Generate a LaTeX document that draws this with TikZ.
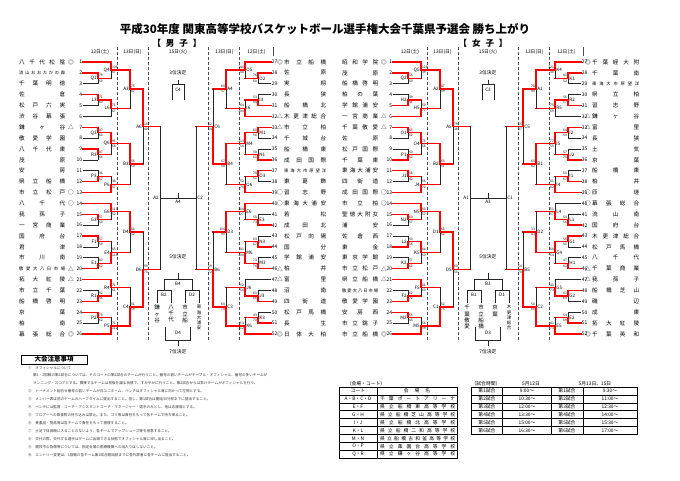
\documentclass[tikz,border=0pt]{standalone}
\usepackage{fontspec}
\setmainfont{Noto Sans CJK JP}
\usetikzlibrary{calc}

\def\sprd#1{\sprdA#1\endsprd}
\def\sprdA#1#2\endsprd{#1\ifx\relax#2\relax\else\hfill\sprdA#2\endsprd\fi}
\def\mkn{}\def\mkd{◎}\def\mko{○}\def\mkt{△}
\def\fsn{\fontsize{5.6}{6}\selectfont}
\def\fss{\fontsize{4.3}{5}\selectfont}

\tikzset{
  hw/.style={red, line width=1.4pt, line cap=rect},
  vw/.style={hw},
  hx/.style={hw},
  hl/.style={black!85, line width=.8pt, line cap=rect},
  vl/.style={hl},
  vx/.style={hl},
  num/.style={font=\fontsize{5}{5}\selectfont, inner sep=.6pt},
  numL/.style={num, anchor=east},
  numR/.style={num, anchor=west},
  sym/.style={font=\fontsize{5.6}{6}\selectfont, inner sep=0pt},
  lab/.style={font=\fontsize{4.6}{4.6}\selectfont, inner sep=.2pt},
  labL/.style={lab, anchor=east, xshift=-1pt},
  labR/.style={lab, anchor=west, xshift=1pt},
  scr/.style={font=\fontsize{3.3}{3.3}\selectfont, inner sep=.1pt},
  supL/.style={scr, anchor=south west, xshift=.8pt, yshift=1.1pt},
  subL/.style={scr, anchor=north west, xshift=.8pt, yshift=-1.1pt},
  supR/.style={scr, anchor=south east, xshift=-.8pt, yshift=1.1pt},
  subR/.style={scr, anchor=north east, xshift=-.8pt, yshift=-1.1pt},
  hdr/.style={font=\fontsize{4.8}{5}\selectfont, inner sep=0pt},
  daysep/.style={black!70, densely dashed, line width=.5pt},
  vt/.style={font=\fontsize{5.5}{6.3}\selectfont, align=center, inner sep=0pt, anchor=north},
  vts/.style={vt, font=\fontsize{4.4}{5.2}\selectfont},
  note/.style={font=\fontsize{3.6}{4}\selectfont, anchor=west, inner sep=0pt, black!80},
  tcell/.style={font=\fontsize{4.8}{5}\selectfont, inner sep=0pt},
}

\newcommand\putteam{%
  \node[num\s] (\p\tn) at (\nx,\yy) {\tn};
  \node[sym] (\p\tn-s) at (\mx,\yy) {\csname mk\sy\endcsname};
  \node[anchor=west, inner sep=0pt] (\p\tn-n) at (\bx,\yy) {\csname fs\fz\endcsname\hbox to \bw pt{\expandafter\sprd\expandafter{\nm}}};
}

\newcommand\playgame{%
  \path ($(\p\ga)!.5!(\p\gb)$) coordinate (tmp);
  \coordinate (col) at (\cx,0);
  \coordinate (\p\g) at (col |- tmp);
  \draw[h\ca] (\p\ga) -- (\p\ga -| \p\g);
  \draw[h\cb] (\p\gb) -- (\p\gb -| \p\g);
  \draw[v\ca] (\p\ga -| \p\g) -- (\p\g);
  \draw[v\cb] (\p\gb -| \p\g) -- (\p\g);
  \node[lab\s] (\p\g-l) at (\p\g) {\g};
  \node[sup\s] at (\p\g) {\sca};
  \node[sub\s] at (\p\g) {\scb};
}

\begin{document}
\begin{tikzpicture}[x=1pt,y=-1pt]
\useasboundingbox (0,0) rectangle (680,481);
\node[font=\bfseries\fontsize{11.5}{12}\selectfont] (title) at (325,29) {平成30年度 関東高等学校バスケットボール選手権大会千葉県予選会 勝ち上がり};
\node[font=\bfseries\fontsize{8.5}{9}\selectfont] (boys) at (177,43) {【\hspace{5pt}男\hspace{5pt}子\hspace{5pt}】};
\node[font=\bfseries\fontsize{8.5}{9}\selectfont] (girls) at (483,43) {【\hspace{5pt}女\hspace{5pt}子\hspace{5pt}】};

\foreach \x/\tx in {100/12日(土),132.5/13日(日),178/15日(火),224.5/13日(日),256.5/12日(土),410/12日(土),442.5/13日(日),488/15日(火),534.5/13日(日),566.5/12日(土)}
  \node[hdr] at (\x,52) {\tx};
\foreach \x in {117.5,148,208.5,239.5,427.5,458,518.5,549.5}
  \draw[daysep] (\x,47) -- (\x,342);
\foreach \x in {273,583}
  \draw[black!70, line width=.5pt] (\x,47) -- (\x,56);

\def\p{m}\def\s{L}\def\nx{83}\def\mx{71}\def\bx{19}\def\bw{46}
\foreach \rw/\nm/\sy/\fz [evaluate=\rw as \yy using 62+10.88*\rw, evaluate=\rw as \tn using int(\rw+1)] in {0/八千代松陰/d/n,1/流山おおたかの森/n/s,2/千葉明徳/n/n,3/佐倉/n/n,4/松戸六実/n/n,5/渋谷幕張/n/n,6/鎌ヶ谷/t/n,7/敬愛学園/n/n,8/八千代東/n/n,9/茂原/n/n,10/安房/n/n,11/県立船橋/n/n,12/市立松戸/o/n,13/八千代/o/n,14/我孫子/n/n,15/一宮商業/n/n,16/国府台/n/n,17/君津/n/n,18/市川南/n/n,19/敬愛大八日市場/t/s,20/拓大紅陵/t/n,21/市立千葉/n/n,22/船橋啓明/n/n,23/京葉/n/n,24/柏南/n/n,25/幕張総合/d/n}{\putteam}
\foreach \g/\ga/\gb/\cx/\ca/\cb/\sca/\scb in {Q1/2/3/98/w/l/79/50,Q4/1/Q1/111/w/x/106/67,L3/4/5/98/w/l/71/60,L6/L3/6/111/w/l/71/67,A3/Q4/L6/130/w/x/75/47,Q3/7/8/98/w/l/87/60,R3/9/10/98/w/l/87/64,Q6/Q3/R3/111/w/x/95/58,P3/11/12/98/l/w/36/67,P6/P3/13/111/x/w/38/57,B3/Q6/P6/130/w/x/56/50,A6/A3/B3/143/w/x/147/40,G3/15/16/98/w/l/57/50,G6/14/G3/111/w/x/113/52,F1/17/18/98/w/l/57/54,E1/19/20/98/l/w/60/62,E4/F1/E1/111/x/w/65/118,D4/G6/E4/130/w/x/64/52,R1/22/23/98/l/w/52/56,R4/21/R1/111/w/x/71/61,P2/24/25/98/w/l/73/62,P5/P2/26/111/x/w/71/112,C4/R4/P5/130/x/w/51/59,D6/D4/C4/143/x/w/59/73}{\playgame}

\def\p{m}\def\s{R}\def\nx{271}\def\mx{280}\def\bx{284}\def\bw{42}
\foreach \rw/\nm/\sy/\fz [evaluate=\rw as \yy using 62+10.88*\rw, evaluate=\rw as \tn using int(\rw+27)] in {0/市立船橋/d/n,1/佐原/n/n,2/実籾/n/n,3/長狭/n/n,4/船橋北/n/n,5/木更津総合/t/n,6/市立柏/t/n,7/千城台/n/n,8/船橋東/n/n,9/成田国際/n/n,10/東海大市原望洋/n/s,11/東葛飾/n/n,12/習志野/o/n,13/東海大浦安/o/n,14/若松/n/n,15/成田北/n/n,16/松戸向陽/n/n,17/国分/n/n,18/学館浦安/n/n,19/柏井/t/n,20/富里/t/n,21/沼南/n/n,22/四街道/n/n,23/松戸馬橋/n/n,24/長生/n/n,25/日体大柏/d/n}{\putteam}
\foreach \g/\ga/\gb/\cx/\ca/\cb/\sca/\scb in {O2/28/29/258/w/l/76/60,O5/27/O2/245/w/x/140/40,I3/30/31/258/l/w/53/64,I6/I3/32/245/x/w/64/100,A4/O5/I6/226/w/x/68/57,M1/33/34/258/w/l/60/56,N1/35/36/258/l/w/58/61,M4/M1/N1/245/w/x/113/56,O3/37/38/258/w/l/78/51,O6/O3/39/245/x/w/52/78,B4/M4/O6/226/w/x/67/58,C6/A4/B4/213/x/w/62/64,E3/41/42/258/l/w/58/73,E6/40/E3/245/w/x/104/27,N3/43/44/258/l/w/63/67,M3/45/46/258/l/w/73/76,M6/N3/M3/245/x/w/81/100,D3/E6/M6/226/w/x/104/90,J3/48/49/258/l/w/60/66,J6/47/J3/245/l/w/52/56,K3/50/51/258/l/w/43/70,K6/K3/52/245/x/w/53/112,C3/J6/K6/226/x/w/60/78,B6/D3/C3/213/x/w/59/72}{\playgame}

\def\p{w}\def\s{L}\def\nx{393}\def\mx{384}\def\bx{342}\def\bw{36}
\foreach \rw/\nm/\sy/\fz [evaluate=\rw as \yy using 62+10.88*\rw, evaluate=\rw as \tn using int(\rw+1)] in {0/昭和学院/d/n,1/茂原/n/n,2/船橋啓明/n/n,3/柏の葉/n/n,4/学館浦安/n/n,5/一宮商業/t/n,6/千葉敬愛/t/n,7/佐原/n/n,8/松戸国際/n/n,9/千葉東/n/n,10/東海大浦安/n/n,11/四街道/n/n,12/成田国際/o/n,13/市立柏/o/n,14/聖徳大附女/n/n,15/浦安/n/n,16/佐倉西/n/n,17/東金/n/n,18/東京学館/n/n,19/市立松戸/t/n,20/県立船橋/t/n,21/敬愛大八日市場/n/s,22/敬愛学園/n/n,23/安房西/n/n,24/市立銚子/n/n,25/市立船橋/d/n}{\putteam}
\foreach \g/\ga/\gb/\cx/\ca/\cb/\sca/\scb in {Q2/2/3/408/w/l/56/50,Q5/1/Q2/421/w/x/129/39,H2/4/5/408/l/w/39/41,H5/H2/6/421/x/w/50/77,A2/Q5/H5/440/w/x/87/59,O1/7/8/408/w/l/65/52,P1/9/10/408/l/w/50/52,O4/O1/P1/421/w/x/75/58,J1/11/12/408/w/l/58/42,J4/J1/13/421/x/w/56/72,B2/O4/J4/440/w/x/63/51,A5/A2/B2/453/w/x/79/38,N2/15/16/408/w/l/60/57,N5/14/N2/421/w/x/63/57,L2/17/18/408/l/w/50/56,K2/19/20/408/l/w/57/62,K5/L2/K2/421/w/x/64/50,D1/N5/K5/440/w/x/63/62,F2/22/23/408/l/w/62/72,F5/21/F2/421/w/x/81/60,M2/24/25/408/w/l/55/43,M5/M2/26/421/x/w/56/59,C1/F5/M5/440/x/w/52/75,D5/D1/C1/453/w/x/60/53}{\playgame}

\def\p{w}\def\s{R}\def\nx{581}\def\mx{588}\def\bx{592}\def\bw{47}
\foreach \rw/\nm/\sy/\fz [evaluate=\rw as \yy using 62+10.88*\rw, evaluate=\rw as \tn using int(\rw+27)] in {0/千葉経大附/d/n,1/千葉南/n/n,2/東海大市原望洋/n/s,3/県立柏/n/n,4/習志野/n/n,5/鎌ヶ谷/t/n,6/富里/t/n,7/長狭/n/n,8/土気/n/n,9/京葉/n/n,10/船橋東/n/n,11/柏井/n/n,12/匝瑳/o/n,13/幕張総合/o/n,14/流山南/n/n,15/国府台/n/n,16/木更津総合/n/n,17/松戸馬橋/n/n,18/八千代/n/n,19/千葉商業/t/n,20/我孫子/t/n,21/船橋芝山/n/n,22/磯辺/n/n,23/成東/n/n,24/拓大紅陵/n/n,25/千葉英和/d/n}{\putteam}
\foreach \g/\ga/\gb/\cx/\ca/\cb/\sca/\scb in {K1/28/29/568/w/l/81/52,K4/27/K1/555/w/x/121/30,R2/30/31/568/l/w/56/57,R5/R2/32/555/w/l/75/69,A1/K4/R5/536/w/x/78/40,I2/33/34/568/w/l/64/50,J2/35/36/568/l/w/57/75,I5/I2/J2/555/w/x/77/55,I1/37/38/568/l/w/50/67,I4/I1/39/555/x/w/61/62,B1/I5/I4/536/w/x/63/62,C5/A1/B1/523/w/x/65/37,L1/41/42/568/l/w/54/56,L4/40/L1/555/l/w/51/57,G1/43/44/568/w/l/56/50,H1/45/46/568/l/w/47/61,G4/G1/H1/555/w/x/66/54,D2/L4/G4/536/x/w/33/43,G2/48/49/568/w/l/61/60,G5/47/G2/555/l/w/40/73,E2/50/51/568/l/w/54/69,E5/E2/52/555/x/w/41/73,C2/G5/E5/536/x/w/58/60,B5/D2/C2/523/x/w/54/70}{\playgame}

\foreach \p/\dx/\qa/\qb/\qc/\qd/\ua/\ub/\uf/\ut/\uv/\ul/\ur/\us in {m/0/A6/D6/C6/B6/A2/C2/A4/C4/B4/B2/D2/D4,w/310/A5/D5/C5/B5/A1/C1/A3/C3/B3/B1/D1/D3}{
  \path ($(\p\qa)!.5!(\p\qb)$) coordinate (tmp);
  \coordinate (col) at ({160+\dx},0);
  \coordinate (\p cl) at (col |- tmp);
  \coordinate (col) at ({196+\dx},0);
  \coordinate (\p cr) at (col |- tmp);
  \coordinate (\p cf) at ($(\p cl)!.5!(\p cr)$);
  \foreach \q/\sd in {\qa/l,\qb/l,\qc/r,\qd/r}
    \draw[hx] (\p\q) -- (\p\q -| \p c\sd);
  \draw[vx] (\p\qa -| \p cl) -- (\p\qb -| \p cl);
  \draw[vx] (\p\qc -| \p cr) -- (\p\qd -| \p cr);
  \draw[vx] (\p cl) -- (\p cr);
  \draw[vx] (\p cf) -- ++(0,-5);
  \node[labL] (\p cl-l) at (\p cl) {\ua};
  \node[labR] (\p cr-l) at (\p cr) {\ub};
  \node[lab, below=1.5pt] (\p cf-l) at (\p cf) {\uf};
  \coordinate (\p c3) at ({178+\dx},84);
  \draw[vx] (\p c3) -- ++(0,-4);
  \draw[vx] ($(\p c3)+(-6,16)$) |- ($(\p c3)+(6,0)$) -- ++(0,16);
  \node[lab] (\p c3-l) at ($(\p c3)+(0,6)$) {\ut};
  \node[hdr] (\p c3-t) at ({178+\dx},73) {3位決定};
  \coordinate (\p c5) at ({178+\dx},279);
  \draw[vx] (\p c5) -- ++(0,-6);
  \draw[vx] ($(\p c5)+(-14,11)$) |- ($(\p c5)+(14,0)$) -- ++(0,11);
  \node[lab] (\p c5-l) at ($(\p c5)+(0,5)$) {\uv};
  \foreach \sd/\lb in {-1/\ul,1/\ur}{
    \coordinate (tmp) at ($(\p c5)+(14*\sd,11)$);
    \draw[vx] ($(tmp)+(-7,13)$) |- ($(tmp)+(7,0)$) -- ++(0,13);
    \node[lab] at ($(tmp)+(0,4.5)$) {\lb};
  }
  \node[hdr] (\p c5-t) at ({178+\dx},257) {5位決定};
  \coordinate (\p c7) at ({178+\dx},340);
  \draw[vx] (\p c7) -- ++(0,6);
  \draw[vx] ($(\p c7)+(-12.5,-13)$) |- ($(\p c7)+(12.5,0)$) -- ++(0,-13);
  \node[lab] (\p c7-l) at ($(\p c7)+(0,-7)$) {\us};
  \node[hdr] (\p c7-t) at ({178+\dx},351.5) {7位決定};
}
\foreach \x/\tx/\f in {157/鎌\\ヶ\\谷/vt,171/八\\千\\代/vt,185/市\\立\\船/vt,199/東\\海\\大\\浦\\安/vts,467/千\\葉\\敬\\愛/vt,481/市\\立\\船\\橋/vt,495/京\\葉/vt,509/木\\更\\津\\総\\合/vts}
  \node[\f] at (\x,305) {\tx};

\node[draw, line width=1pt, minimum width=66pt, minimum height=9pt, inner sep=0pt, font=\bfseries\fontsize{6.5}{7}\selectfont] (rules) at (54,359.5) {大会注意事項};
\foreach \y/\x/\tx in {368/28/①　オフィシャルについて,375.5/33/第1・2回戦の第1試合については、そのコートの第1試合のチームが行うこと。番号の若いチームがテーブル・オフィシャル、番号の多いチームが,383/33/ランニング・スコアとする。隣接するチームは前後を譲る状態で、すみやかに行うこと。第2試合からは負けチームがオフィシャルを行う。,391.5/28/②　トーナメント組合せ番号の若いチームが白ユニホーム、ベンチはオフィシャル席に向かって左側とする。,399.5/28/③　メンバー表は前のゲームのハーフタイムに提出すること。但し、第1試合は開始30分前までに提出すること。,407.5/28/④　ベンチには監督・コーチ・アシスタントコーチ・マネージャー・選手のみとし、他は応援席とする。,415.5/28/⑤　フロアーへの飲食物の持ち込みは禁止。また、ゴミ等は責任をもって各チームで持ち帰ること。,423.5/28/⑥　貴重品・物品等は各チームで責任をもって管理すること。,431.5/28/⑦　土足で体育館に入ることのないよう、各チームでアップシューズ等を用意すること。,439.5/28/⑧　交代の際、交代する選手はゲームに出場できる状態でオフィシャル席に申し出ること。,447.5/28/⑨　競技中の負傷等については、指定会場の医療機関への出入りはしないこと。,455.5/28/⑩　エントリー変更は、1回戦の各チーム第1試合開始前までに各代表者に各チームに提出すること。}
  \node[note] at (\x,\y) {\tx};

\node[tcell] (venue) at (366,384) {（会場・コート）};
\draw[line width=.9pt] (339,387) rectangle (457,458);
\foreach \i in {1,...,8}
  \draw[line width=.4pt] (339,{387+7.89*\i}) -- (457,{387+7.89*\i});
\draw[line width=.4pt] (377,387) -- (377,458);
\node[tcell] (vc0) at (358,391) {コート};
\node[tcell] (vn0) at (417,391) {会\hspace{6pt}場\hspace{6pt}名};
\foreach \i/\ct/\nm in {1/A・B・C・D/千葉ポートアリーナ,2/E・F/県立船橋東高等学校,3/G・H/県立船橋芝山高等学校,4/I・J/県立船橋北高等学校,5/K・L/県立船橋二和高等学校,6/M・N/県立船橋古和釜高等学校,7/O・P/県立薬園台高等学校,8/Q・R/県立鎌ヶ谷高等学校}{
  \node[tcell] (vc\i) at (358,{391+7.89*\i}) {\ct};
  \node[tcell, anchor=west] (vn\i) at (380,{391+7.89*\i}) {\hbox to 75pt{\expandafter\sprd\expandafter{\nm}}};
}

\node[tcell] (times) at (486,384) {（試合時間）};
\node[tcell] (day1) at (531,384) {5月12日};
\node[tcell] (day2) at (595,384) {5月13日、15日};
\draw[line width=.9pt] (471,387) rectangle (637,434.3);
\foreach \i in {1,...,5}
  \draw[line width=.4pt] (471,{387+7.89*\i}) -- (637,{387+7.89*\i});
\foreach \x in {502,551,583}
  \draw[line width=.4pt] (\x,387) -- (\x,434.3);
\foreach \i/\ta/\tb in {1/9:00～/9:30～,2/10:30～/11:00～,3/12:00～/12:30～,4/13:30～/14:00～,5/15:00～/15:30～,6/16:30～/17:00～}{
  \node[tcell] (ga\i) at (487,{383+7.89*\i}) {第\i 試合};
  \node[tcell] (ta\i) at (527,{383+7.89*\i}) {\ta};
  \node[tcell] (gb\i) at (567,{383+7.89*\i}) {第\i 試合};
  \node[tcell] (tb\i) at (610,{383+7.89*\i}) {\tb};
}
\end{tikzpicture}
\end{document}
